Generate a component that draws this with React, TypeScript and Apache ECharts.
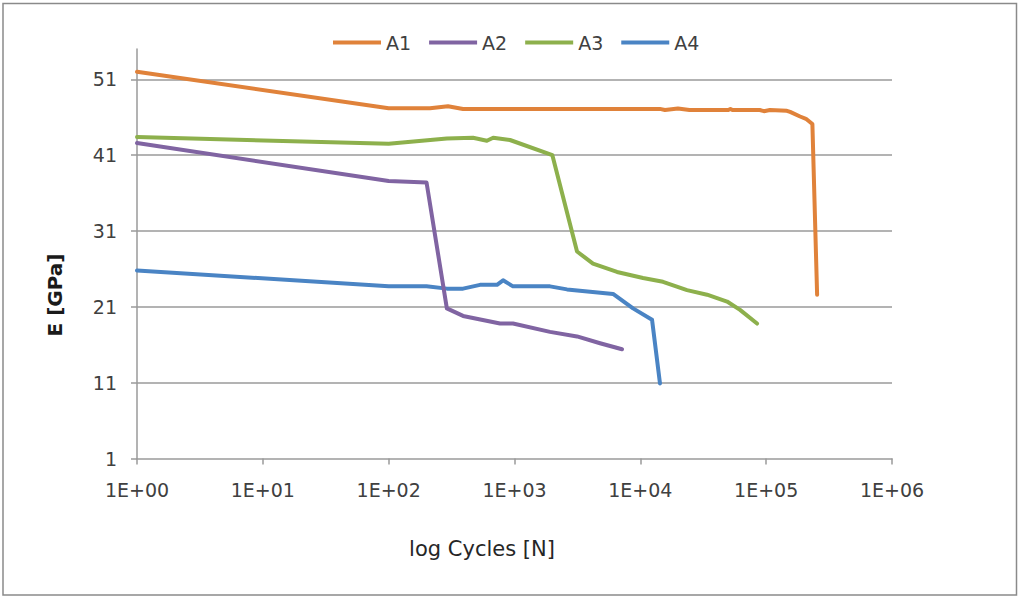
import React, { useEffect, useRef } from "react";
import * as echarts from "echarts";

const seriesNames = ["A1", "A2", "A3", "A4"];
const seriesColors = ["#E0823A", "#8064A2", "#8DB04C", "#4A84C4"];

const yTicks = [1, 11, 21, 31, 41, 51];
const xTickExponents = [0, 1, 2, 3, 4, 5, 6];

const a1Cycles = [1, 100, 213, 296, 390, 14300, 15700, 19900, 24600, 50000, 52000, 54000, 89000, 96000, 107000, 146000, 155000, 186000, 207000, 233000, 254000];
const a1E = [52.0, 47.2, 47.2, 47.45, 47.1, 47.1, 46.95, 47.15, 46.95, 46.95, 47.1, 46.95, 46.95, 46.8, 46.95, 46.85, 46.7, 46.1, 45.8, 45.1, 22.6];

const a2Cycles = [1, 100, 200, 290, 390, 767, 973, 1915, 3140, 4785, 7150];
const a2E = [42.6, 37.6, 37.4, 20.8, 19.8, 18.8, 18.8, 17.7, 17.1, 16.2, 15.4];

const a3Cycles = [1, 100, 290, 468, 603, 677, 921, 2000, 3140, 4205, 6530, 10500, 15140, 23500, 33900, 48900, 62000, 84600];
const a3E = [43.4, 42.5, 43.2, 43.3, 42.9, 43.3, 43.0, 41.0, 28.3, 26.7, 25.6, 24.8, 24.3, 23.2, 22.6, 21.7, 20.6, 18.8];

const a4Cycles = [1, 100, 200, 290, 390, 532, 726, 811, 973, 1915, 2615, 6070, 8750, 12390, 14330];
const a4E = [25.8, 23.7, 23.7, 23.4, 23.4, 23.9, 23.9, 24.5, 23.7, 23.7, 23.3, 22.7, 20.8, 19.3, 10.9];

const allCycles = [a1Cycles, a2Cycles, a3Cycles, a4Cycles];
const allE = [a1E, a2E, a3E, a4E];

const FONT = "'DejaVu Sans', 'Liberation Sans', sans-serif";
const GRAY = "#9a9a9a";
const TEXT = "#404040";

function fmtExp(v: number): string {
  const e = Math.round(Math.log10(v));
  if (!xTickExponents.includes(e)) return "";
  return "1E+" + (e < 10 ? "0" + e : String(e));
}

export default function App() {
  const ref = useRef<HTMLDivElement>(null);
  useEffect(() => {
    if (!ref.current) return;
    const chart = echarts.init(ref.current, undefined, { renderer: "svg" });
    const series = seriesNames.map((name, i) => ({
      name,
      type: "line",
      data: allCycles[i].map((c, j) => [c, allE[i][j]]),
      symbol: "none",
      showSymbol: false,
      clip: false,
      lineStyle: { color: seriesColors[i], width: 4, cap: "round", join: "round" },
      itemStyle: { color: seriesColors[i] },
      z: 10 - i,
    }));
    chart.setOption({
      animation: false,
      backgroundColor: "#ffffff",
      grid: { left: 137, right: 126, top: 49, bottom: 138.5, containLabel: false },
      legend: {
        data: seriesNames,
        left: 328,
        top: 28,
        icon: "rect",
        itemWidth: 48,
        itemHeight: 4,
        itemGap: 18,
        textStyle: { fontFamily: FONT, fontSize: 19, color: TEXT },
      },
      xAxis: {
        type: "log",
        logBase: 10,
        min: 1,
        max: 1000000,
        axisLine: { show: true, lineStyle: { color: GRAY, width: 1.5 } },
        axisTick: { show: true, length: 6, lineStyle: { color: GRAY, width: 1.5 } },
        splitLine: { show: false },
        minorTick: { show: false },
        axisLabel: {
          formatter: (v: number) => fmtExp(v),
          fontFamily: FONT,
          fontSize: 19,
          color: TEXT,
          margin: 22,
          showMinLabel: true,
          showMaxLabel: true,
        },
      },
      yAxis: {
        type: "value",
        min: 1,
        max: 55,
        interval: 10,
        axisLine: { show: true, lineStyle: { color: GRAY, width: 1.5 } },
        axisTick: {
          show: true,
          length: 6,
          inside: false,
          customValues: yTicks,
          lineStyle: { color: GRAY, width: 1.5 },
        },
        splitLine: {
          show: true,
          showMinLine: false,
          showMaxLine: true,
          lineStyle: { color: GRAY, width: 1.5 },
        },
        axisLabel: {
          customValues: yTicks,
          fontFamily: FONT,
          fontSize: 19,
          color: TEXT,
          margin: 20,
        },
      },
      graphic: [
        {
          type: "rect",
          shape: { x: 3, y: 3.5, width: 1013.5, height: 591.5 },
          style: { fill: "none", stroke: "#8a8a8a", lineWidth: 1.5 },
          silent: true,
          z: -1,
        },
        {
          type: "text",
          x: 482,
          y: 549,
          style: {
            text: "log Cycles [N]",
            fontFamily: FONT,
            fontSize: 21,
            fill: "#262626",
            align: "center",
            verticalAlign: "middle",
          },
        },
        {
          type: "text",
          x: 55,
          y: 295,
          rotation: Math.PI / 2,
          style: {
            text: "E [GPa]",
            fontFamily: FONT,
            fontSize: 20,
            fontWeight: "bold",
            fill: "#1a1a1a",
            align: "center",
            verticalAlign: "middle",
          },
        },
      ],
      series,
    });
    return () => chart.dispose();
  }, []);
  return (
    <div
      ref={ref}
      style={{ position: "fixed", left: 0, top: 0, width: 1018, height: 597, background: "#fff" }}
    />
  );
}
